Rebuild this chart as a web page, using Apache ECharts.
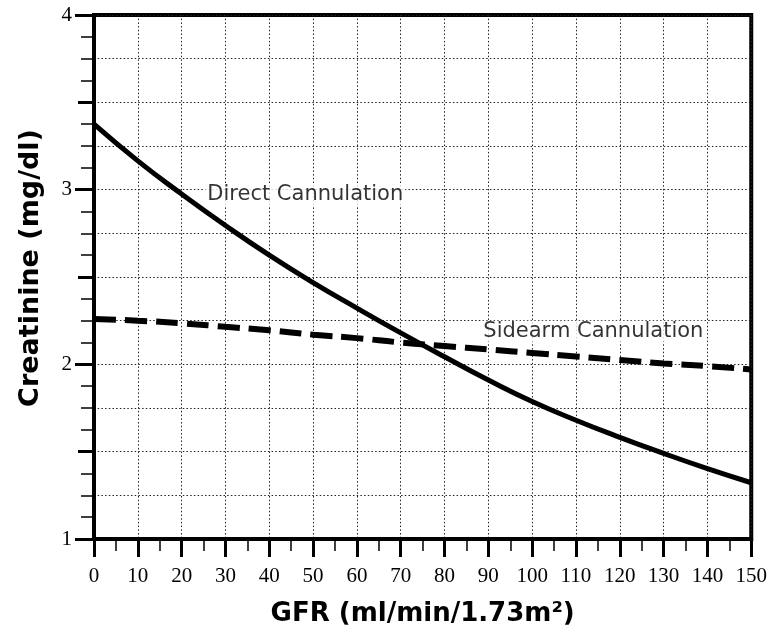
<!DOCTYPE html>
<html>
<head>
<meta charset="utf-8">
<script src="https://cdn.jsdelivr.net/npm/echarts@6/dist/echarts.min.js"></script>
<style>
  html, body { margin: 0; padding: 0; background: #fff; }
  #chart { width: 770px; height: 632px; }
</style>
</head>
<body>
<div id="chart"></div>
<script>
// GFR values along the x axis
var gfr = [0, 10, 20, 30, 40, 50, 60, 70, 80, 90, 100, 110, 120, 130, 140, 150];
// creatinine (mg/dl)
var directCannulation = [3.375, 3.165, 2.975, 2.795, 2.625, 2.468, 2.322, 2.18, 2.043, 1.91, 1.787, 1.68, 1.582, 1.49, 1.403, 1.322];
var sidearmCannulation = [2.26, 2.25, 2.235, 2.215, 2.195, 2.17, 2.15, 2.125, 2.105, 2.085, 2.065, 2.045, 2.025, 2.005, 1.99, 1.97];
// curve labels, placed in data units
var curveLabels = [
  { text: 'Direct Cannulation', gfr: 25.4, value: 2.97 },
  { text: 'Sidearm Cannulation', gfr: 88.4, value: 2.19 }
];

var chart = echarts.init(document.getElementById('chart'));

var serif = 'Liberation Serif';
var sans = 'DejaVu Sans';
var gridDots = { color: '#222', width: 1, type: [1.5, 2.2] };

function pairs(xs, ys) {
  return xs.map(function (x, i) { return [x, ys[i]]; });
}

var option = {
  backgroundColor: '#fff',
  animation: false,
  grid: {
    left: 94, right: 17, top: 15, bottom: 89,
    show: true, borderColor: '#000', borderWidth: 4, backgroundColor: 'transparent'
  },
  xAxis: {
    type: 'value', min: 0, max: 150, interval: 10,
    name: 'GFR (ml/min/1.73m²)', nameLocation: 'middle', nameGap: 62,
    nameTextStyle: { fontFamily: sans, fontWeight: 'bold', fontSize: 26, color: '#000' },
    axisLine: { show: true, onZero: false, lineStyle: { color: '#000', width: 4 } },
    axisTick: { show: true, inside: false, length: 18, lineStyle: { color: '#000', width: 3 } },
    minorTick: { show: true, splitNumber: 2, length: 12, lineStyle: { color: '#000', width: 1.5 } },
    axisLabel: { fontFamily: serif, fontSize: 21, color: '#000', margin: 27 },
    splitLine: { show: true, lineStyle: gridDots }
  },
  yAxis: [
    {
      // half-unit long ticks + eighth-unit minor ticks
      type: 'value', min: 1, max: 4, interval: 0.5, position: 'left',
      axisLine: { show: true, onZero: false, lineStyle: { color: '#000', width: 4 } },
      axisTick: { show: true, length: 16, lineStyle: { color: '#000', width: 3 } },
      minorTick: { show: true, splitNumber: 4, length: 13, lineStyle: { color: '#000', width: 1.5 } },
      axisLabel: { show: false },
      splitLine: { show: false }
    },
    {
      // quarter-unit dotted grid
      type: 'value', min: 1, max: 4, interval: 0.25, position: 'left',
      axisLine: { show: false }, axisTick: { show: false }, axisLabel: { show: false },
      splitLine: { show: true, lineStyle: gridDots }
    },
    {
      // integer ticks with labels
      type: 'value', min: 1, max: 4, interval: 1, position: 'left',
      name: 'Creatinine (mg/dl)', nameLocation: 'middle', nameGap: 50,
      nameTextStyle: { fontFamily: sans, fontWeight: 'bold', fontSize: 27, color: '#000', padding: [0, 0, 0, 18] },
      axisLine: { show: false },
      axisTick: { show: true, length: 19, lineStyle: { color: '#000', width: 3 } },
      axisLabel: { fontFamily: serif, fontSize: 21, color: '#000', margin: 22 },
      splitLine: { show: false }
    }
  ],
  series: [
    {
      name: 'Direct Cannulation', type: 'line', yAxisIndex: 0, smooth: true,
      symbol: 'none', data: pairs(gfr, directCannulation),
      lineStyle: { color: '#000', width: 5 }, z: 5
    },
    {
      name: 'Sidearm Cannulation', type: 'line', yAxisIndex: 0, smooth: true,
      symbol: 'none', data: pairs(gfr, sidearmCannulation),
      lineStyle: { color: '#000', width: 6, type: [22, 9], cap: 'butt' }, z: 5
    },
    {
      name: 'labels', type: 'scatter', yAxisIndex: 0, symbolSize: 0, silent: true,
      data: curveLabels.map(function (d) { return { value: [d.gfr, d.value], name: d.text }; }),
      label: {
        show: true, position: 'right', distance: 0,
        formatter: function (p) { return p.name; },
        fontFamily: sans, fontSize: 21, color: '#000',
        backgroundColor: '#fff', padding: [0, 2]
      },
      z: 6
    }
  ]
};

chart.setOption(option);
</script>
</body>
</html>
